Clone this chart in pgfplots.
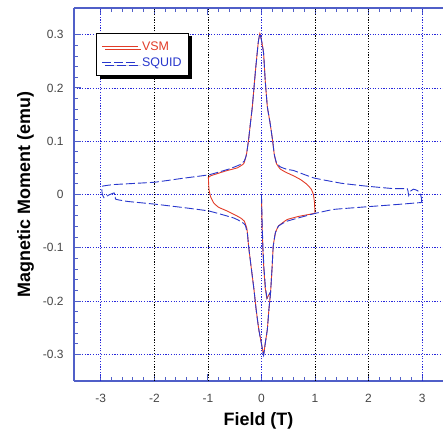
\documentclass[border=0pt]{standalone}
\usepackage{pgfplots}
\pgfplotsset{compat=1.18}
\usepackage{fontspec}
\setmainfont{Liberation Sans}
\usetikzlibrary{calc,shadows}
\definecolor{vsm}{RGB}{226,60,40}
\definecolor{squid}{RGB}{40,55,205}
\definecolor{axblue}{RGB}{80,95,200}
\definecolor{gridblue}{RGB}{40,40,220}
\definecolor{ticklab}{RGB}{70,70,70}

\begin{document}
\begin{tikzpicture}
\begin{axis}[name=ax,
    width=369bp, height=373bp, scale only axis,
    xmin=-3.5, xmax=3.39, ymin=-0.35, ymax=0.35,
    axis x line*=box, axis y line*=left,
    axis line style={axblue, line width=1.2pt},
    xtick={-3,-2,-1,0,1,2,3},
    ytick={-0.3,-0.2,-0.1,0,0.1,0.2,0.3},
    yticklabels={-0.3,-0.2,-0.1,0,0.1,0.2,0.3},
    xticklabels={-3,-2,-1,0,1,2,3},
    minor x tick num=4, minor y tick num=4,
    tick align=inside,
    major tick length=7bp, minor tick length=4bp,
    every tick/.style={axblue, line width=0.9pt},
    ticklabel style={font=\fontsize{12}{14}\selectfont, text=ticklab},
    xticklabel style={yshift=-10bp},
    yticklabel style={xshift=-7bp},
    ymajorgrids=true,
    grid style={gridblue, line width=0.8pt, dash pattern=on 1.2pt off 1.5pt},
    xlabel={\textbf{Field (T)}},
    ylabel={\textbf{Magnetic Moment (emu)}},
    label style={font=\fontsize{18}{20}\selectfont},
    xlabel style={yshift=-3bp},
    ylabel style={yshift=2bp},
    legend style={at={(axis cs:-3.08,0.303)}, anchor=north west,
        draw=black, line width=0.8pt, fill=white,
        drop shadow={shadow xshift=3bp, shadow yshift=-3bp, fill=black, opacity=1},
        font=\fontsize{12.5}{15}\selectfont, inner xsep=5bp, inner ysep=6bp,
        row sep=2bp, cells={anchor=west},
        /tikz/every odd column/.append style={column sep=2bp}},
    legend image post style={line width=0.8pt},
    legend image code/.code={\draw[#1] (0cm,0cm) -- (1.25cm,0cm);},
]
% vertical grid lines
\foreach \xx in {-3,0,3} {
  \edef\tmp{\noexpand\draw[gridblue, line width=0.8pt, dash pattern=on 1.2pt off 1.5pt] (axis cs:\xx,-0.35) -- (axis cs:\xx,0.35);}\tmp
}
\foreach \xx in {-2,-1,1,2} {
  \edef\tmp{\noexpand\draw[black, line width=0.7pt, dash pattern=on 1.2pt off 1.5pt] (axis cs:\xx,-0.35) -- (axis cs:\xx,0.35);}\tmp
}

% VSM loop
\addplot[vsm, line width=0.9pt, smooth, tension=0.2] coordinates {
(1.0,-0.035)(0.99,-0.015)(0.97,0.0)(0.93,0.01)(0.85,0.019)(0.73,0.028)(0.6,0.035)
(0.45,0.042)(0.35,0.048)(0.28,0.058)(0.24,0.075)(0.21,0.1)(0.16,0.135)(0.11,0.165)
(0.07,0.215)(0.04,0.265)(0.0,0.29)(-0.03,0.302)(-0.06,0.285)(-0.11,0.234)(-0.17,0.165)
(-0.21,0.13)(-0.24,0.103)(-0.28,0.075)(-0.33,0.058)(-0.45,0.050)(-0.64,0.045)(-0.8,0.040)
(-0.95,0.035)(-0.99,0.032)(-0.98,0.01)(-0.95,-0.004)(-0.89,-0.016)(-0.8,-0.024)
(-0.64,-0.031)(-0.5,-0.038)(-0.39,-0.044)(-0.32,-0.050)(-0.27,-0.065)(-0.24,-0.097)
(-0.2,-0.13)(-0.14,-0.178)(-0.1,-0.215)(-0.05,-0.253)(0.0,-0.28)(0.04,-0.300)(0.07,-0.28)
(0.11,-0.253)(0.14,-0.215)(0.17,-0.184)(0.2,-0.135)(0.22,-0.097)(0.26,-0.072)(0.32,-0.059)
(0.48,-0.047)(0.7,-0.041)(0.91,-0.037)(1.0,-0.035)
};
\addlegendentry{\textcolor{vsm}{VSM}}
% VSM virgin curve
\addplot[vsm, line width=0.9pt, forget plot] coordinates {
(0.0,0.0)(0.01,-0.05)(0.025,-0.1)(0.045,-0.14)(0.07,-0.175)(0.1,-0.195)(0.13,-0.19)(0.16,-0.184)
};

% SQUID main loop
\addplot[squid, line width=0.9pt, dash pattern=on 9bp off 3bp, smooth, tension=0.2] coordinates {
(2.99,-0.015)(2.99,-0.008)(2.97,0.0)(2.92,0.007)(2.84,0.010)(2.78,0.006)(2.75,-0.002)
(2.74,0.004)(2.72,0.011)(2.47,0.011)(1.97,0.0156)(1.5,0.021)(0.98,0.031)(0.6,0.045)
(0.48,0.047)(0.35,0.052)(0.28,0.060)(0.24,0.075)(0.21,0.1)(0.16,0.135)(0.11,0.165)
(0.07,0.215)(0.04,0.265)(0.0,0.29)(-0.03,0.302)(-0.06,0.285)(-0.11,0.234)(-0.17,0.165)
(-0.21,0.13)(-0.24,0.103)(-0.28,0.075)(-0.32,0.063)(-0.4,0.056)(-0.6,0.048)(-0.98,0.037)
(-1.5,0.030)(-2.0,0.023)(-2.75,0.0187)(-2.97,0.0156)(-2.98,0.008)(-2.97,0.0)(-2.94,-0.006)
(-2.85,-0.001)(-2.75,0.003)(-2.73,-0.004)(-2.72,-0.009)(-2.5,-0.013)(-2.0,-0.018)
(-1.5,-0.024)(-0.98,-0.031)(-0.52,-0.044)(-0.36,-0.052)(-0.3,-0.058)(-0.26,-0.075)
(-0.24,-0.097)(-0.2,-0.13)(-0.14,-0.178)(-0.1,-0.215)(-0.05,-0.253)(0.0,-0.28)(0.04,-0.302)
(0.07,-0.28)(0.11,-0.253)(0.14,-0.215)(0.17,-0.184)(0.2,-0.135)(0.22,-0.097)(0.26,-0.072)
(0.32,-0.059)(0.48,-0.05)(0.98,-0.036)(1.35,-0.028)(1.97,-0.023)(2.5,-0.019)(2.99,-0.015)
};
\addlegendentry{\textcolor{squid}{SQUID}}
% SQUID virgin curve
\addplot[squid, line width=0.9pt, dash pattern=on 9bp off 3bp, forget plot] coordinates {
(0.0,0.0)(0.012,-0.05)(0.028,-0.1)(0.048,-0.14)(0.075,-0.175)(0.105,-0.195)(0.135,-0.19)(0.16,-0.184)
};
\end{axis}
\pgfresetboundingbox
\useasboundingbox ($(ax.south west)+(-74bp,-50bp)$) rectangle ($(ax.north east)+(0bp,8bp)$);
\end{tikzpicture}
\end{document}
